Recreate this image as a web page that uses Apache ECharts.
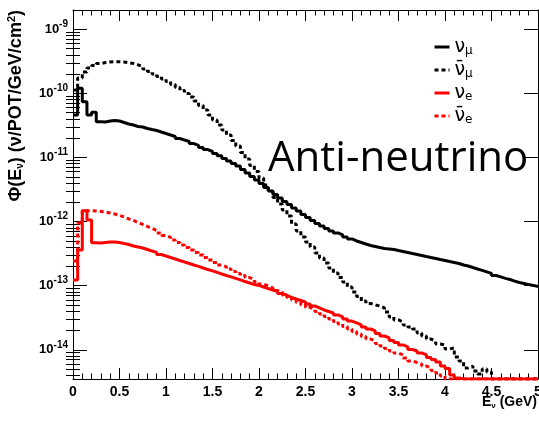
<!DOCTYPE html>
<html><head><meta charset="utf-8">
<script src="https://cdn.jsdelivr.net/npm/echarts@6/dist/echarts.min.js"></script>
<style>html,body{margin:0;padding:0;background:#fff}#c{width:539px;height:421px}</style>
</head><body><div id="c"></div>
<script>
// ---- data (flux per 0.05 GeV bin, 0..5 GeV) ----
const BIN_START = 0;
const BIN_WIDTH = 0.05;
const Y_MIN = 3.5e-15;
const Y_MAX = 2e-9;
const X_TICKS = [0, 0.5, 1, 1.5, 2, 2.5, 3, 3.5, 4, 4.5, 5];
const SERIES_NAMES = ['numu', 'numubar', 'nue', 'nuebar'];

const numuFlux = [
 4.6e-11, 1.2e-10, 7.4e-11, 4.6e-11, 5.1e-11, 3.6e-11, 3.58e-11, 3.71e-11, 3.78e-11, 3.71e-11,
 3.52e-11, 3.33e-11, 3.21e-11, 3.04e-11, 2.99e-11, 2.83e-11, 2.73e-11, 2.64e-11, 2.50e-11, 2.37e-11,
 2.24e-11, 2.13e-11, 1.98e-11, 1.87e-11, 1.78e-11, 1.65e-11, 1.54e-11, 1.43e-11, 1.33e-11, 1.24e-11,
 1.15e-11, 1.06e-11, 9.65e-12, 8.82e-12, 8.06e-12, 7.37e-12, 6.50e-12, 5.73e-12, 5.05e-12, 4.46e-12,
 3.93e-12, 3.40e-12, 3.00e-12, 2.65e-12, 2.33e-12, 2.06e-12, 1.85e-12, 1.63e-12, 1.46e-12, 1.29e-12,
 1.16e-12, 1.04e-12, 9.34e-13, 8.54e-13, 7.81e-13, 7.14e-13, 6.64e-13, 6.18e-13, 5.75e-13, 5.35e-13,
 4.98e-13, 4.72e-13, 4.47e-13, 4.24e-13, 4.09e-13, 3.94e-13, 3.80e-13, 3.74e-13, 3.67e-13, 3.54e-13,
 3.42e-13, 3.30e-13, 3.18e-13, 3.07e-13, 2.96e-13, 2.85e-13, 2.75e-13, 2.66e-13, 2.56e-13, 2.47e-13,
 2.38e-13, 2.30e-13, 2.22e-13, 2.10e-13, 2.03e-13, 1.92e-13, 1.82e-13, 1.73e-13, 1.64e-13, 1.55e-13,
 1.44e-13, 1.37e-13, 1.30e-13, 1.25e-13, 1.18e-13, 1.12e-13, 1.08e-13, 1.04e-13, 1.01e-13, 9.7e-14
];
const numubarFlux = [
 1.13e-10, 1.74e-10, 2.16e-10, 2.49e-10, 2.72e-10, 2.93e-10, 3.03e-10, 3.09e-10, 3.12e-10, 3.12e-10,
 3.09e-10, 3.01e-10, 2.93e-10, 2.79e-10, 2.63e-10, 2.40e-10, 2.20e-10, 2.01e-10, 1.84e-10, 1.68e-10,
 1.53e-10, 1.38e-10, 1.24e-10, 1.11e-10, 9.96e-11, 8.79e-11, 7.61e-11, 6.48e-11, 5.51e-11, 4.60e-11,
 3.85e-11, 3.21e-11, 2.69e-11, 2.24e-11, 1.84e-11, 1.51e-11, 1.20e-11, 9.48e-12, 7.50e-12, 6.05e-12,
 4.79e-12, 3.72e-12, 2.95e-12, 2.38e-12, 1.88e-12, 1.52e-12, 1.22e-12, 9.18e-13, 7.14e-13, 5.75e-13,
 4.81e-13, 4.02e-13, 3.24e-13, 2.70e-13, 2.26e-13, 1.89e-13, 1.58e-13, 1.34e-13, 1.14e-13, 9.55e-14,
 7.98e-14, 6.79e-14, 5.77e-14, 5.28e-14, 5.00e-14, 4.82e-14, 4.49e-14, 3.89e-14, 3.25e-14, 2.92e-14,
 2.72e-14, 2.44e-14, 2.27e-14, 2.11e-14, 1.83e-14, 1.64e-14, 1.47e-14, 1.37e-14, 1.23e-14, 1.19e-14,
 1.03e-14, 1.07e-14, 7.72e-15, 6.68e-15, 5.20e-15, 5.58e-15, 4.67e-15, 4.19e-15, 5.02e-15, 4.51e-15,
 0, 0, 0, 0, 0, 0, 0, 0, 0, 0
];
const nueFlux = [
 1.23e-13, 3.60e-13, 1.48e-12, 1.06e-12, 4.69e-13, 4.63e-13, 4.72e-13, 4.81e-13, 4.81e-13, 4.72e-13,
 4.55e-13, 4.39e-13, 4.16e-13, 4.02e-13, 3.87e-13, 3.67e-13, 3.48e-13, 3.30e-13, 3.07e-13, 2.90e-13,
 2.75e-13, 2.61e-13, 2.47e-13, 2.34e-13, 2.22e-13, 2.10e-13, 2.00e-13, 1.89e-13, 1.79e-13, 1.70e-13,
 1.61e-13, 1.52e-13, 1.44e-13, 1.37e-13, 1.30e-13, 1.23e-13, 1.16e-13, 1.10e-13, 1.04e-13, 1.01e-13,
 9.55e-14, 9.04e-14, 8.57e-14, 8.12e-14, 7.55e-14, 7.03e-14, 6.55e-14, 6.20e-14, 5.88e-14, 5.57e-14,
 5.18e-14, 4.82e-14, 4.49e-14, 4.18e-14, 3.96e-14, 3.75e-14, 3.49e-14, 3.25e-14, 3.02e-14, 2.81e-14,
 2.62e-14, 2.44e-14, 2.27e-14, 2.11e-14, 1.97e-14, 1.79e-14, 1.64e-14, 1.53e-14, 1.40e-14, 1.30e-14,
 1.19e-14, 1.11e-14, 1.01e-14, 9.58e-15, 8.91e-15, 8.30e-15, 7.59e-15, 7.06e-15, 6.45e-15, 5.58e-15,
 5.11e-15, 4.05e-15, 3.63e-15, 0, 0, 0, 0, 0, 0, 0,
 0, 0, 0, 0, 0, 0, 0, 0, 0, 0
];
const nuebarFlux = [
 2.43e-13, 9.51e-13, 1.48e-12, 1.48e-12, 1.46e-12, 1.44e-12, 1.41e-12, 1.36e-12, 1.31e-12, 1.25e-12,
 1.18e-12, 1.10e-12, 1.04e-12, 9.68e-13, 9.01e-13, 8.39e-13, 7.81e-13, 7.27e-13, 6.64e-13, 6.07e-13,
 5.65e-13, 5.16e-13, 4.72e-13, 4.32e-13, 3.94e-13, 3.60e-13, 3.30e-13, 3.01e-13, 2.75e-13, 2.52e-13,
 2.30e-13, 2.10e-13, 1.96e-13, 1.82e-13, 1.67e-13, 1.55e-13, 1.44e-13, 1.34e-13, 1.25e-13, 1.14e-13,
 1.06e-13, 9.89e-14, 9.21e-14, 8.41e-14, 7.83e-14, 7.16e-14, 6.55e-14, 5.98e-14, 5.47e-14, 5.00e-14,
 4.57e-14, 4.26e-14, 3.96e-14, 3.62e-14, 3.31e-14, 3.02e-14, 2.76e-14, 2.53e-14, 2.31e-14, 2.11e-14,
 1.93e-14, 1.76e-14, 1.61e-14, 1.47e-14, 1.37e-14, 1.25e-14, 1.15e-14, 1.05e-14, 9.58e-15, 8.91e-15,
 8.30e-15, 7.45e-15, 6.68e-15, 6.33e-15, 6.00e-15, 5.58e-15, 5.20e-15, 4.75e-15, 4.35e-15, 3.90e-15,
 0, 0, 0, 0, 0, 0, 0, 0, 0, 0,
 0, 0, 0, 0, 0, 0, 0, 0, 0, 0
];

// ---- helpers ----
function histData(vals) {
  const d = vals.map((v, i) => [BIN_START + i * BIN_WIDTH, v > 0 ? v : Y_MIN]);
  const last = vals[vals.length - 1];
  d.push([BIN_START + vals.length * BIN_WIDTH, last > 0 ? last : Y_MIN]);
  return d;
}
const minorY = [];
for (let k = -15; k <= -9; k++) for (let m = 2; m <= 9; m++) {
  const v = m * Math.pow(10, k);
  if (v > Y_MIN && v < Y_MAX) minorY.push(v);
}
const FONT = 'Liberation Sans';
const legendRich = {
  n: { fontSize: 19, fontFamily: 'DejaVu Sans', color: '#000', lineHeight: 19 },
  s: { fontSize: 12, fontFamily: 'DejaVu Sans', color: '#000', padding: [8, 0, 0, 0], lineHeight: 12 }
};
const legendText = {
  numu: '{n|ν}{s|μ}',
  numubar: '{n|ν\u0304}{s|μ}',
  nue: '{n|ν}{s|e}',
  nuebar: '{n|ν\u0304}{s|e}'
};
function yLabel(v) {
  const e = Math.log10(v);
  const r = Math.round(e);
  if (Math.abs(e - r) > 1e-6) return '';
  return '{b|10}{s|' + r + '}';
}
const tickStyle = { color: '#000', width: 1 };

const chart = echarts.init(document.getElementById('c'), null, { renderer: 'canvas' });
const lineCommon = { type: 'line', step: 'end', symbol: 'none', showSymbol: false, animation: false, xAxisIndex: 0, yAxisIndex: 0 };

chart.setOption({
  animation: false,
  backgroundColor: '#fff',
  grid: { left: 73, right: 1, top: 10, bottom: 42, containLabel: false, outerBoundsMode: 'none' },
  xAxis: [
    { type: 'value', position: 'bottom', min: X_TICKS[0], max: X_TICKS[X_TICKS.length - 1], interval: 0.5,
      axisLine: { show: true, onZero: false, lineStyle: tickStyle },
      axisTick: { show: true, inside: true, length: 11, lineStyle: tickStyle },
      minorTick: { show: true, splitNumber: 5, length: 5.5, lineStyle: tickStyle },
      axisLabel: { show: true, margin: 6, color: '#000', fontFamily: FONT, fontWeight: 'bold', fontSize: 14 },
      splitLine: { show: false } },
    { type: 'value', position: 'top', min: X_TICKS[0], max: X_TICKS[X_TICKS.length - 1], interval: 0.5,
      axisLine: { show: true, onZero: false, lineStyle: tickStyle },
      axisTick: { show: true, inside: true, length: 11, lineStyle: tickStyle },
      minorTick: { show: true, splitNumber: 5, length: 5.5, lineStyle: tickStyle },
      axisLabel: { show: false }, splitLine: { show: false } }
  ],
  yAxis: [
    { type: 'log', logBase: 10, min: Y_MIN, max: Y_MAX, position: 'left',
      axisLine: { show: true, onZero: false, lineStyle: tickStyle },
      axisTick: { show: true, inside: true, length: 14, lineStyle: tickStyle },
      axisLabel: { show: true, margin: 5, formatter: yLabel, showMinLabel: false, showMaxLabel: false,
        rich: { b: { fontSize: 13, fontWeight: 'bold', fontFamily: FONT, color: '#000' },
                s: { fontSize: 10, fontWeight: 'bold', fontFamily: FONT, color: '#000', padding: [0, 0, 10, 0] } } },
      splitLine: { show: false } },
    { type: 'log', logBase: 10, min: Y_MIN, max: Y_MAX, position: 'left',
      axisLine: { show: false },
      axisTick: { show: true, inside: true, length: 7, lineStyle: tickStyle, customValues: minorY },
      axisLabel: { show: false }, splitLine: { show: false } },
    { type: 'log', logBase: 10, min: Y_MIN, max: Y_MAX, position: 'right',
      axisLine: { show: true, onZero: false, lineStyle: tickStyle },
      axisTick: { show: true, inside: true, length: 14, lineStyle: tickStyle },
      axisLabel: { show: false }, splitLine: { show: false } },
    { type: 'log', logBase: 10, min: Y_MIN, max: Y_MAX, position: 'right',
      axisLine: { show: false },
      axisTick: { show: true, inside: true, length: 7, lineStyle: tickStyle, customValues: minorY },
      axisLabel: { show: false }, splitLine: { show: false } }
  ],
  legend: {
    orient: 'vertical', left: 428, top: 32, itemWidth: 15, itemHeight: 4, itemGap: 3,
    data: SERIES_NAMES,
    formatter: n => legendText[n],
    itemStyle: { color: 'rgba(0,0,0,0)', borderWidth: 0, opacity: 0 },
    lineStyle: { width: 3 },
    textStyle: { rich: legendRich },
    selectedMode: false
  },
  series: [
    Object.assign({}, lineCommon, { name: 'numu', data: histData(numuFlux), lineStyle: { color: '#000', width: 3, type: 'solid' }, itemStyle: { color: '#000' } }),
    Object.assign({}, lineCommon, { name: 'numubar', data: histData(numubarFlux), lineStyle: { color: '#000', width: 3, type: [4, 3] }, itemStyle: { color: '#000' } }),
    Object.assign({}, lineCommon, { name: 'nue', data: histData(nueFlux), lineStyle: { color: '#ff0000', width: 3, type: 'solid' }, itemStyle: { color: '#ff0000' } }),
    Object.assign({}, lineCommon, { name: 'nuebar', data: histData(nuebarFlux), lineStyle: { color: '#ff0000', width: 3, type: [4, 3] }, itemStyle: { color: '#ff0000' } })
  ],
  graphic: [
    { type: 'text', x: 16, y: 10, rotation: Math.PI / 2,
      style: { text: '{t|Φ(E}{s|ν}{t|) (ν/POT/GeV/cm}{p|2}{t|)}', align: 'right', verticalAlign: 'middle',
        rich: { t: { fontSize: 18, fontWeight: 'bold', fontFamily: FONT, color: '#000' },
                s: { fontSize: 10, fontWeight: 'bold', fontFamily: FONT, color: '#000', padding: [8, 0, 0, 0] },
                p: { fontSize: 11, fontWeight: 'bold', fontFamily: FONT, color: '#000', padding: [0, 0, 9, 0] } } } },
    { type: 'text', x: 537, y: 402,
      style: { text: '{t|E}{s|ν}{t| (GeV)}', align: 'right', verticalAlign: 'middle',
        rich: { t: { fontSize: 14, fontWeight: 'bold', fontFamily: FONT, color: '#000' },
                s: { fontSize: 8, fontWeight: 'bold', fontFamily: FONT, color: '#000', padding: [8, 0, 0, 0] } } } },
    { type: 'text', x: 268, y: 159,
      style: { text: 'Anti-neutrino', align: 'left', verticalAlign: 'middle', fontSize: 42, fontFamily: 'Open Sans', fill: '#000' } }
  ]
});
</script></body></html>
